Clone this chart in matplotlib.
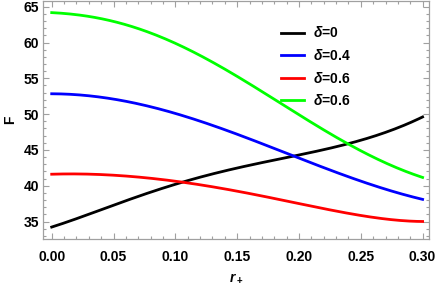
import numpy as np
import matplotlib
matplotlib.use("Agg")
import matplotlib.pyplot as plt
from matplotlib.ticker import MultipleLocator

plt.rcParams['font.family'] = ['Liberation Sans', 'DejaVu Sans']
plt.rcParams['mathtext.fontset'] = 'custom'
plt.rcParams['mathtext.it'] = 'Liberation Sans:italic:bold'
plt.rcParams['mathtext.rm'] = 'Liberation Sans:bold'
plt.rcParams['mathtext.bf'] = 'Liberation Sans:bold'

# values
r_plus = [0.0, 0.0175, 0.0445, 0.0715, 0.098, 0.125, 0.1443, 0.152, 0.171,
          0.198, 0.225, 0.252, 0.279, 0.30]
F_d0 = [34.13, 35.45, 36.85, 38.5, 40.1, 41.5, 42.2, 42.7, 43.2,
        44.2, 45.1, 46.6, 48.0, 49.6]
F_d04 = [52.85, 52.75, 52.2, 51.4, 50.3, 48.6, 47.6, 47.1, 45.7,
         44.1, 42.2, 40.5, 39.05, 38.1]
F_d06 = [41.6, 41.67, 41.5, 41.2, 40.7, 39.9, 39.5, 39.2, 38.5,
         37.6, 36.6, 35.8, 35.2, 35.0]
F_d06b = [64.16, 64.0, 63.1, 61.85, 60.1, 57.8, 55.9, 54.9, 53.1,
          50.1, 47.3, 44.8, 42.4, 41.2]

labels = [r"$\delta$=0", r"$\delta$=0.4", r"$\delta$=0.6", r"$\delta$=0.6"]
colors = ["black", "#0000ff", "#ff0000", "#00ff00"]
series = [F_d0, F_d04, F_d06, F_d06b]
xticks = [0.0, 0.05, 0.10, 0.15, 0.20, 0.25, 0.30]


def smooth(x, y, n=200):
    # smooth curve through the read points (polyfit)
    x = np.asarray(x)
    y = np.asarray(y)
    c = np.polyfit(x, y, 5)
    xs = np.linspace(x[0], x[-1], n)
    return xs, np.polyval(c, xs)


fig = plt.figure(figsize=(4.36, 2.89), dpi=100)
ax = fig.add_axes([0.0993, 0.174, 0.885, 0.8225])

for y, c, lab in zip(series, colors, labels):
    xs, ys = smooth(r_plus, y)
    ax.plot(xs, ys, color=c, lw=2.0, label=lab)

ax.set_xlim(-0.0068, 0.3053)
ax.set_ylim(32.6, 65.8)
ax.set_xticks(xticks)
ax.set_xticklabels([f"{v:.2f}" for v in xticks])
ax.xaxis.set_minor_locator(MultipleLocator(0.01))
ax.yaxis.set_major_locator(MultipleLocator(5))
ax.yaxis.set_minor_locator(MultipleLocator(1))

for s in ax.spines.values():
    s.set_color("#a0a0a0")
    s.set_linewidth(0.9)
ax.tick_params(which="both", direction="in", top=True, right=True,
               color="#a0a0a0", labelsize=10, width=0.8)
ax.tick_params(which="major", length=4)
ax.tick_params(which="minor", length=2)
ax.tick_params(axis="x", which="major", pad=8)
ax.tick_params(axis="y", which="major", pad=3)
for t in ax.get_xticklabels() + ax.get_yticklabels():
    t.set_fontweight("bold")

ax.set_xlabel(r"$r_+$", fontsize=10, labelpad=5)
ax.set_ylabel("F", fontsize=10, fontweight="bold", labelpad=5)

leg = ax.legend(loc="upper left", bbox_to_anchor=(0.584, 0.95), frameon=False,
                fontsize=10, handlelength=1.66, labelspacing=0.55,
                handletextpad=0.65)
for t in leg.get_texts():
    t.set_fontweight("bold")

fig.savefig("out.png", dpi=100)
